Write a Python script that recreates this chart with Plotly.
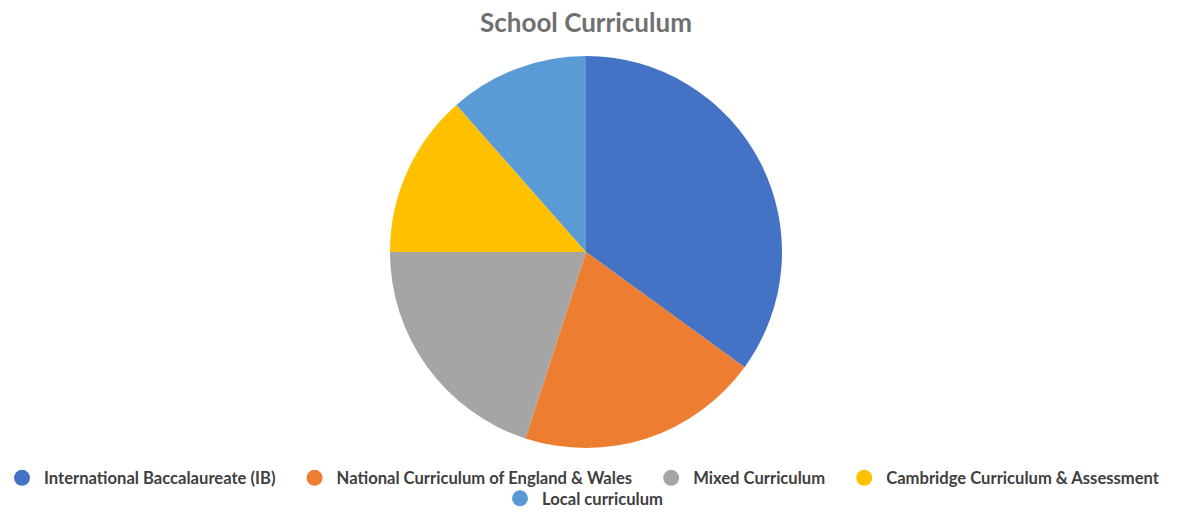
import plotly.graph_objects as go

# School curriculum share (percent)
curricula = [
    "International Baccalaureate (IB)",
    "National Curriculum of England & Wales",
    "Mixed Curriculum",
    "Cambridge Curriculum & Assessment",
    "Local curriculum",
]
shares = [35.0, 20.0, 20.0, 13.5, 11.5]
colors = ["#4472C4", "#ED7D31", "#A5A5A5", "#FFC000", "#5B9BD5"]

W, H = 1178, 516
cx, cy, r = 586, 252, 196

fig = go.Figure()
fig.add_trace(go.Pie(
    labels=curricula,
    values=shares,
    marker=dict(colors=colors, line=dict(width=0)),
    sort=False,
    direction="clockwise",
    rotation=0,
    textinfo="none",
    hoverinfo="label+percent",
    showlegend=False,
    domain=dict(x=[(cx - r) / W, (cx + r) / W], y=[(H - cy - r) / H, (H - cy + r) / H]),
))

# Circle-marker legend entries (first four on one row, last centred beneath)
for i, (name, col) in enumerate(zip(curricula, colors)):
    pad = "\u00a0\u00a0\u00a0" if i < 3 else ""
    fig.add_trace(go.Scatter(
        x=[None], y=[None], mode="markers", name=name + pad,
        marker=dict(symbol="circle", size=19, color=col),
        legend="legend" if i < 4 else "legend2",
        hoverinfo="skip",
    ))

legend_style = dict(
    orientation="h", xanchor="center",
    font=dict(family="Lato", size=16.6, color="#404040", weight="bold"),
    bgcolor="rgba(0,0,0,0)", itemsizing="trace", itemwidth=34,
    traceorder="normal",
)

fig.update_layout(
    width=W, height=H,
    margin=dict(l=0, r=0, t=0, b=0),
    paper_bgcolor="white", plot_bgcolor="white",
    title=dict(
        text="School Curriculum", x=586 / W, xanchor="center", y=1 - 23 / H, yanchor="middle",
        font=dict(family="Lato", size=26, color="#707070", weight="bold"),
    ),
    xaxis=dict(visible=False), yaxis=dict(visible=False),
    legend=dict(x=579 / W, y=1 - 478 / H, yanchor="middle", **legend_style),
    legend2=dict(x=583 / W, y=0, yanchor="bottom", **legend_style),
)

fig.write_html("out.html")
